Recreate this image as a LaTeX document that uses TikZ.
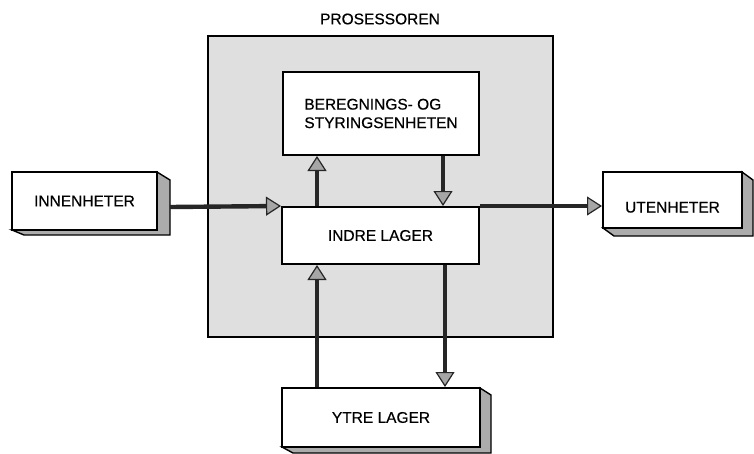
\documentclass[tikz,border=0pt]{standalone}
\usepackage{fontspec}
\setmainfont{Liberation Sans}[BoldFont={Liberation Sans},BoldFeatures={FakeBold=0.5}]
\usetikzlibrary{arrows.meta}
\begin{document}
\begin{tikzpicture}[x=1pt,y=-1pt,
  lbl/.style={font=\fontsize{15.5}{18.5}\selectfont\bfseries},
  box/.style={draw=black,line width=2pt,fill=white,inner sep=0pt,lbl},
  shade/.style={draw=black,line width=1.4pt,fill=gray!65},
  arr/.style={line width=4.4pt,draw=black!85,
    -{Triangle[width=19pt,length=15pt,fill=gray!70,line width=1.2pt]}}
]
\useasboundingbox (0,0) rectangle (754,453);
% processor
\node[draw=black,line width=2pt,fill=gray!25,minimum width=345pt,minimum height=301pt,inner sep=0pt]
  (proc) at (380.5,186.5) {};
\node[lbl] (proct) at (380,19) {PROSESSOREN};
% shadows
\filldraw[shade] (157,172) -- (170,180) -- (170,235) -- (24,235) -- (12,230) -- (157,230) -- cycle;
\filldraw[shade] (742,172) -- (753,180) -- (753,236) -- (614,236) -- (603,228) -- (742,228) -- cycle;
\filldraw[shade] (480,388) -- (491,395) -- (491,453) -- (293,453) -- (282,447) -- (480,447) -- cycle;
% boxes
\node[box,minimum width=145pt,minimum height=58pt] (inn) at (84.5,201) {INNENHETER};
\node[box,minimum width=139pt,minimum height=56pt,text height=25pt,text depth=0pt] (ute) at (672.5,200) {UTENHETER};
\node[box,minimum width=196pt,minimum height=83pt,align=left] (ber) at (381,113.5)
  {BEREGNINGS- OG\\STYRINGSENHETEN};
\node[box,minimum width=197pt,minimum height=57pt] (ind) at (380.5,235.5) {INDRE LAGER};
\node[box,minimum width=198pt,minimum height=59pt] (ytr) at (381,417.5) {YTRE LAGER};
% connectors
\coordinate (innout) at (170,207);
\draw[arr] (innout) -- (ind.north west);
\draw[arr] (ind.north east) -- (ute.west |- ind.north);
\draw[arr] (ind.north -| 317,0) -- (ber.south -| 317,0);
\draw[arr] (ber.south -| 443,0) -- (ind.north -| 443,0);
\draw[arr] (ytr.north -| 317,0) -- (ind.south -| 317,0);
\draw[arr] (ind.south -| 445,0) -- (ytr.north -| 445,0);
\end{tikzpicture}
\end{document}
